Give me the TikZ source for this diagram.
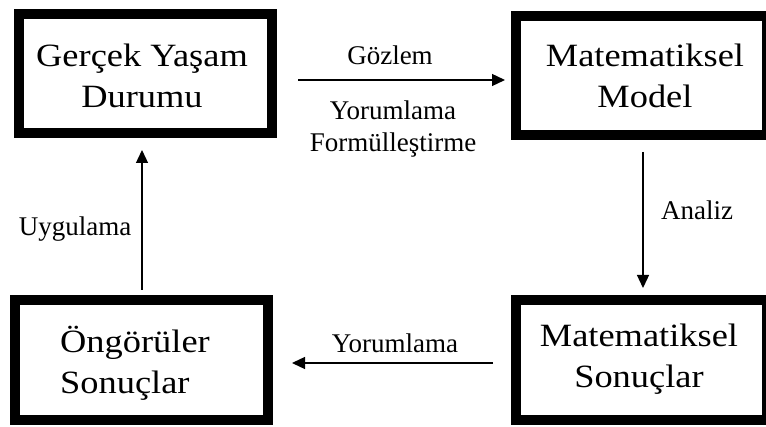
\documentclass[tikz,border=0pt]{standalone}
\usepackage{fontspec}
\setmainfont{Liberation Serif}
\newfontfamily\boxfont{Liberation Serif}[FakeStretch=1.12]
\usetikzlibrary{arrows.meta}
\begin{document}
\begin{tikzpicture}[x=1pt,y=1pt,
  stage/.style={draw=black, line width=10pt, fill=white, rectangle, inner sep=0pt},
  stagetext/.style={font=\boxfont\fontsize{32.5}{41}\selectfont, inner sep=0pt, anchor=base},
  steplabel/.style={font=\fontsize{27}{32}\selectfont, inner sep=0pt, anchor=base},
  flow/.style={draw=black, line width=1.3pt, -{Triangle[length=13pt,width=12pt]}}]
  \fill[white] (0,0) rectangle (766,426);
  \clip (0,0) rectangle (766,426);

  % the four stages of the modelling cycle
  \node[stage, minimum width=253pt, minimum height=119pt] (real) at (145.5,352.5) {};
  \node[stage, minimum width=251pt, minimum height=119pt] (model) at (641.5,350.5) {};
  \node[stage, minimum width=253pt, minimum height=120pt] (pred) at (141.5,66) {};
  \node[stage, minimum width=251pt, minimum height=120pt] (res) at (641.5,66) {};

  \node[stagetext] (realtxt) at (142,359) {\begin{tabular}[t]{@{}c@{}}Gerçek Yaşam\\Durumu\end{tabular}};
  \node[stagetext] (modeltxt) at (645,359) {\begin{tabular}[t]{@{}c@{}}Matematiksel\\Model\end{tabular}};
  \node[stagetext, anchor=base west] (predtxt) at (60,74) {\begin{tabular}[t]{@{}l@{}}Öngörüler\\Sonuçlar\end{tabular}};
  \node[stagetext] (restxt) at (639,79) {\begin{tabular}[t]{@{}c@{}}Matematiksel\\Sonuçlar\end{tabular}};

  % transitions between the stages
  \draw[flow, shorten <=21pt, shorten >=6pt] (real.east |- 0,346) -- (model.west |- 0,346);
  \draw[flow, shorten <=12pt, shorten >=7pt] (model.south -| 643,0) -- (res.north -| 643,0);
  \draw[flow, shorten <=18pt, shorten >=19pt] (res.west |- 0,63) -- (pred.east |- 0,63);
  \draw[flow, shorten <=5pt, shorten >=12pt] (pred.north -| 142,0) -- (real.south -| 142,0);

  % transition labels
  \node[steplabel] (obs) at (390,361) {Gözlem};
  \node[steplabel] (interp) at (393,306) {\begin{tabular}[t]{@{}c@{}}Yorumlama\\Formülleştirme\end{tabular}};
  \node[steplabel] (anal) at (697,206) {Analiz};
  \node[steplabel] (interp2) at (395,74) {Yorumlama};
  \node[steplabel] (appl) at (75,190) {Uygulama};
\end{tikzpicture}
\end{document}
